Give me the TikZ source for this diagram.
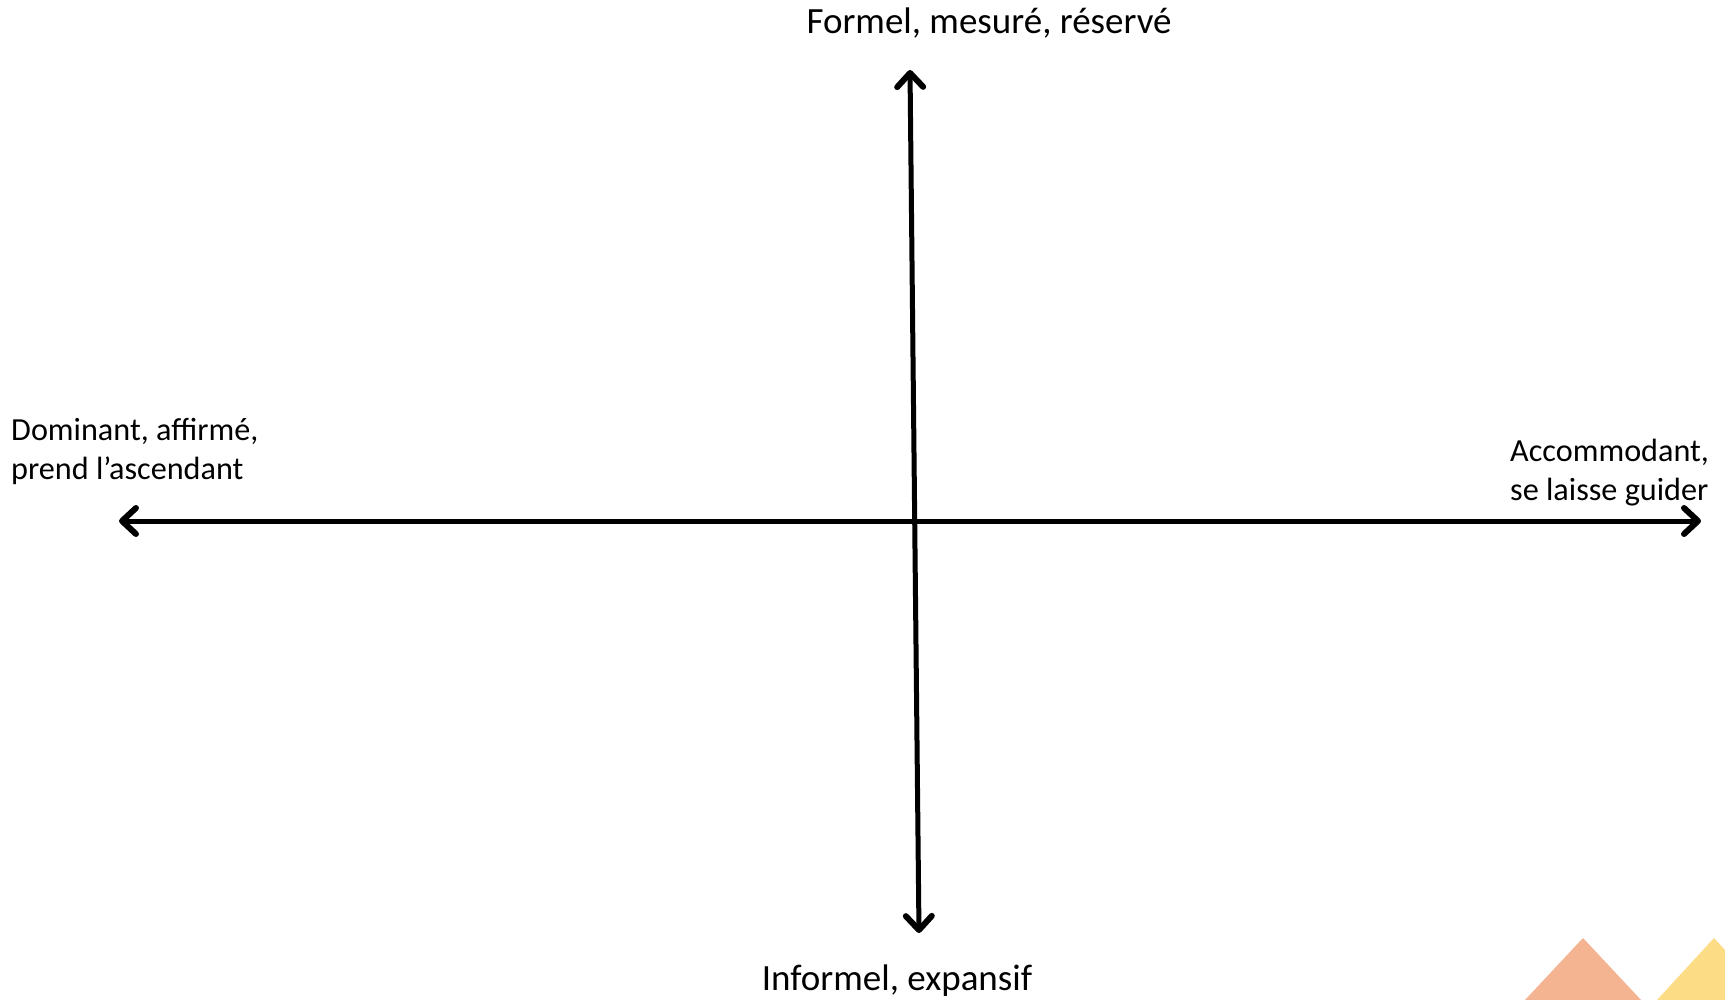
\documentclass[tikz,border=0pt]{standalone}
\usepackage{fontspec}
\setmainfont{Carlito}
\usetikzlibrary{arrows.meta}
\definecolor{triorange}{RGB}{244,179,145}
\definecolor{triyellow}{RGB}{253,220,134}
\tikzset{
  axis/.style={line width=5pt, line cap=round, {Straight Barb[length=14pt,width=26pt,line width=6pt,round]}-{Straight Barb[length=14pt,width=26pt,line width=6pt,round]}},
  biglabel/.style={inner sep=0pt, font=\fontsize{37}{44}\selectfont},
  sidelabel/.style={inner sep=0pt, align=left, font=\fontsize{32.2}{38.5}\selectfont},
}
\begin{document}
\begin{tikzpicture}[x=1pt,y=-1pt]
\useasboundingbox (0,0) rectangle (1725,1000);
\fill[white] (0,0) rectangle (1725,1000);
% corner decoration
\fill[triorange] (1583,938) -- (1641,1000) -- (1525,1000) -- cycle;
\fill[triyellow] (1714,938) -- (1725,950) -- (1725,1000) -- (1657,1000) -- cycle;
% axes
\coordinate (top) at (910,70);
\coordinate (bottom) at (919,933);
\coordinate (left) at (119,521);
\coordinate (right) at (1701,521);
\draw[axis] (bottom) -- (top);
\draw[axis] (left) -- (right);
% labels
\node[biglabel, anchor=base] (ltop) at (989,34) {Formel, mesuré, réservé};
\node[biglabel, anchor=base] (lbottom) at (897,990) {Informel, expansif};
\node[sidelabel, anchor=base west] (lleft) at (11,479) {Dominant, affirmé,\\prend l’ascendant};
\node[sidelabel, anchor=base west] (lright) at (1510,500) {Accommodant,\\se laisse guider};
\end{tikzpicture}
\end{document}
